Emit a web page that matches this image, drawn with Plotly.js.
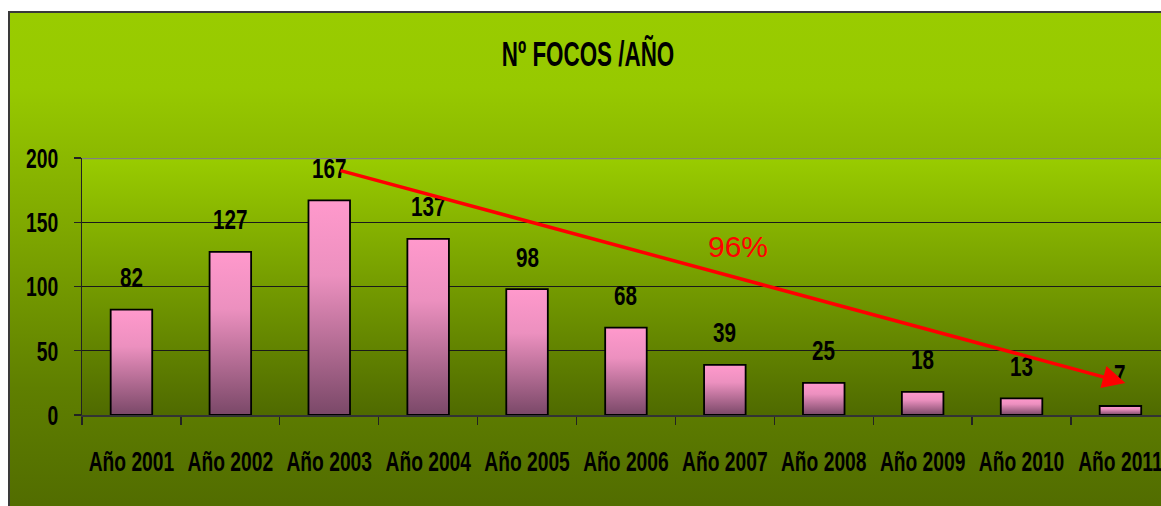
<!DOCTYPE html>
<html>
<head>
<meta charset="utf-8">
<script src="https://cdn.plot.ly/plotly-3.0.1.min.js"></script>
<style>
  html, body { margin:0; padding:0; background:#ffffff; width:1161px; height:506px; overflow:hidden; }
  #frame { position:absolute; left:8px; top:11px; width:1200px; height:540px;
           border:2px solid #3a3a3a; box-sizing:border-box;
           background:linear-gradient(to bottom, #99cc00 0%, #97c900 14%, #7fa800 40%, #5f7f00 70%, #4d6600 100%); }
  #chart { position:absolute; left:0; top:0; width:1161px; height:506px; }
</style>
</head>
<body>
<div id="frame"></div>
<div id="chart"></div>
<script>
const categories = ["Año 2001","Año 2002","Año 2003","Año 2004","Año 2005","Año 2006","Año 2007","Año 2008","Año 2009","Año 2010","Año 2011"];
const focos = [82, 127, 167, 137, 98, 68, 39, 25, 18, 13, 7];
const yTicks = [0, 50, 100, 150, 200];
const chartTitle = "Nº FOCOS /AÑO";
const reductionLabel = "96%";

const sans = "Liberation Sans, Arial, sans-serif";

const valueAnnotations = categories.map((c, i) => ({
  x: i, y: focos[i], xref: 'x', yref: 'y',
  text: String(focos[i]), showarrow: false,
  yanchor: 'middle', yshift: 32,
  font: {family: sans, size: 28, color: '#000000', weight: 'bold'}
}));

const data = [{
  type: 'bar',
  x: categories,
  y: focos,
  width: 0.42,
  marker: {color: '#ff99cc', line: {color: '#000000', width: 1.8}},
  hoverinfo: 'skip'
}];

const layout = {
  width: 1161, height: 506,
  margin: {l: 82, r: 0, t: 158, b: 91},
  paper_bgcolor: 'rgba(0,0,0,0)',
  plot_bgcolor: '#99cc00',
  showlegend: false,
  title: {
    text: '<b>' + chartTitle + '</b>',
    xref: 'container', x: 0.5065, xanchor: 'center',
    yref: 'container', y: 1 - 54/506, yanchor: 'middle',
    font: {family: sans, size: 35, color: '#000000'}
  },
  xaxis: {
    type: 'category',
    range: [-0.5, 10.41],
    showgrid: false,
    showline: true, linecolor: '#333333', linewidth: 1.5,
    ticks: 'outside', tickson: 'boundaries', ticklen: 8, tickwidth: 1.2, tickcolor: '#222222',
    tickangle: 0, dtick: 1,
    ticklabelstandoff: 22,
    tickfont: {family: sans, size: 27.5, color: '#000000', weight: 'bold'},
    fixedrange: true
  },
  yaxis: {
    range: [0, 200],
    tickvals: yTicks,
    ticktext: yTicks.map(String),
    showgrid: true, gridcolor: '#1a1a1a', gridwidth: 1,
    zeroline: false,
    showline: true, linecolor: '#222222', linewidth: 1.2,
    ticks: 'outside', ticklen: 7, tickwidth: 1.2, tickcolor: '#222222',
    ticklabelstandoff: 10,
    tickfont: {family: sans, size: 28, color: '#000000', weight: 'bold'},
    fixedrange: true
  },
  shapes: [{
    type: 'line', xref: 'paper', yref: 'y', x0: 0, x1: 1, y0: 200, y1: 200,
    line: {color: '#808080', width: 2.5}
  }],
  annotations: valueAnnotations.concat([
    {
      x: 10.05, y: 25, xref: 'x', yref: 'y',
      ax: 2.1, ay: 190.5, axref: 'x', ayref: 'y',
      text: '', showarrow: true,
      arrowhead: 2, arrowsize: 1.3, arrowwidth: 3.5, arrowcolor: '#ff0000', standoff: 0
    },
    {
      x: 6.13, y: 131.5, xref: 'x', yref: 'y',
      text: reductionLabel, showarrow: false,
      font: {family: sans, size: 30, color: '#ff0000'}
    }
  ])
};

// horizontally condense a text element (emulates a narrow typeface)
function condense(el, s, anchor) {
  const b = el.getBBox();
  const cx = anchor === 'end' ? b.x + b.width : b.x + b.width / 2;
  const cy = b.y + b.height / 2;
  const prev = el.getAttribute('transform') || '';
  el.setAttribute('transform', (prev + ' translate(' + cx + ',' + cy + ') scale(' + s + ',1) translate(' + (-cx) + ',' + (-cy) + ')').trim());
}

Plotly.newPlot('chart', data, layout, {staticPlot: true, displayModeBar: false}).then(() => {
  const svg = document.querySelector('#chart .main-svg');
  const ns = 'http://www.w3.org/2000/svg';
  let defs = svg.querySelector('defs');
  if (!defs) { defs = document.createElementNS(ns, 'defs'); svg.insertBefore(defs, svg.firstChild); }
  function grad(id, stops) {
    const g = document.createElementNS(ns, 'linearGradient');
    g.setAttribute('id', id);
    g.setAttribute('x1', '0'); g.setAttribute('y1', '0');
    g.setAttribute('x2', '0'); g.setAttribute('y2', '1');
    stops.forEach(([o, c]) => {
      const st = document.createElementNS(ns, 'stop');
      st.setAttribute('offset', o); st.setAttribute('stop-color', c);
      g.appendChild(st);
    });
    defs.appendChild(g);
  }
  grad('barGrad', [['0', '#ff99cc'], ['0.35', '#ec90bf'], ['1', '#7a4868']]);
  grad('plotGrad', [['0', '#99cc00'], ['0.5', '#749b00'], ['1', '#4f6a00']]);
  document.querySelectorAll('#chart .barlayer .point path').forEach(p => {
    p.style.fill = 'url(#barGrad)';
  });
  document.querySelectorAll('#chart .bglayer rect.bg').forEach(r => {
    r.style.fill = 'url(#plotGrad)';
  });
  document.querySelectorAll('#chart .xtick text').forEach(t => condense(t, 0.70, 'middle'));
  document.querySelectorAll('#chart .ytick text').forEach(t => condense(t, 0.69, 'end'));
  document.querySelectorAll('#chart .annotation-text').forEach(t => {
    if (t.textContent !== reductionLabel && t.textContent !== '') condense(t, 0.74, 'middle');
  });
  document.querySelectorAll('#chart .gtitle').forEach(t => condense(t, 0.64, 'middle'));
});
</script>
</body>
</html>
